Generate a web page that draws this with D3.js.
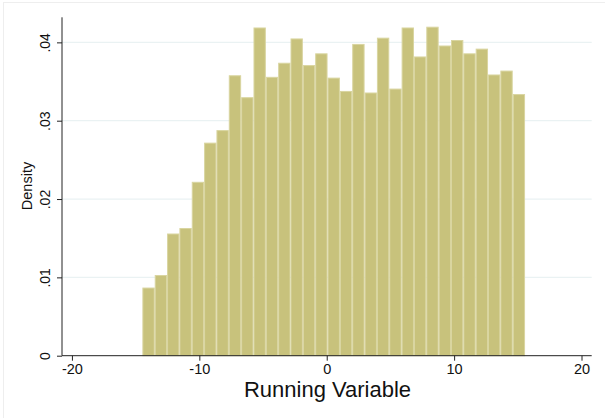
<!DOCTYPE html>
<html>
<head>
<meta charset="utf-8">
<script src="https://cdn.jsdelivr.net/npm/d3@7"></script>
<style>
  body { margin: 0; background: #fff; }
  text { font-family: "Liberation Sans", Arial, sans-serif; fill: #111; }
</style>
</head>
<body>
<script>
// histogram bins (start, width) and densities
const binStart = -14.47;
const binWidth = 0.969;
const densities = [
  0.0087, 0.0103, 0.0156, 0.0163, 0.0222, 0.0272, 0.0288, 0.0358, 0.0330, 0.0419,
  0.0356, 0.0374, 0.0405, 0.0371, 0.0386, 0.0355, 0.0338, 0.0398, 0.0336, 0.0406,
  0.0341, 0.0419, 0.0382, 0.0420, 0.0396, 0.0403, 0.0386, 0.0392, 0.0359, 0.0364,
  0.0334
];
const xTicks = [-20, -10, 0, 10, 20];
const yTicks = [0, 0.01, 0.02, 0.03, 0.04];

const width = 605, height = 418;
const svg = d3.select('body').append('svg')
  .attr('width', width)
  .attr('height', height);

// faint outer frame of the graph region
svg.append('rect')
  .attr('x', 3.5).attr('y', 2.5)
  .attr('width', 640).attr('height', 440)
  .attr('fill', 'none')
  .attr('stroke', '#eeeeee');

const x = d3.scaleLinear().domain([-20.78, 20.8]).range([62, 591.7]);
const y = d3.scaleLinear().domain([0, 0.0432]).range([355.7, 17.3]);

const fmt = d => d === 0 ? '0' : d3.format('.2f')(d).replace(/^0/, '');

// gridlines
svg.append('g')
  .selectAll('line')
  .data(yTicks.filter(d => d > 0))
  .enter().append('line')
  .attr('x1', 62).attr('x2', 591.7)
  .attr('y1', d => y(d)).attr('y2', d => y(d))
  .attr('stroke', '#eaf2f3')
  .attr('stroke-width', 1.3);

// bars
svg.append('g')
  .selectAll('rect')
  .data(densities)
  .enter().append('rect')
  .attr('x', (d, i) => x(binStart + i * binWidth) + 0.5)
  .attr('width', (d, i) => x(binStart + (i + 1) * binWidth) - x(binStart + i * binWidth) - 1)
  .attr('y', d => y(d) + 0.5)
  .attr('height', d => y(0) - y(d) - 0.5)
  .attr('fill', '#c8c27c')
  .attr('stroke', '#d9d5a0')
  .attr('stroke-width', 1);

// x axis
const xAxis = svg.append('g')
  .attr('transform', `translate(0,${y(0)})`)
  .call(d3.axisBottom(x).tickValues(xTicks).tickSize(5).tickPadding(3).tickFormat(d3.format('d')));
xAxis.select('.domain').attr('stroke', '#222').attr('d', `M62,0H591.7`);
xAxis.selectAll('.tick line').attr('stroke', '#222');
xAxis.selectAll('.tick text')
  .style('font-size', '14.5px')
  .text(d => d < 0 ? '-' + Math.abs(d) : d);

// y axis
const yAxis = svg.append('g')
  .attr('transform', 'translate(62,0)')
  .call(d3.axisLeft(y).tickValues(yTicks).tickSize(5).tickFormat(fmt));
yAxis.select('.domain').attr('stroke', '#222').attr('d', `M0,${y(0)}V17.3`);
yAxis.selectAll('.tick line').attr('stroke', '#222');
yAxis.selectAll('.tick text')
  .style('font-size', '14px')
  .attr('x', 0).attr('dy', 0)
  .attr('text-anchor', 'middle')
  .attr('transform', 'translate(-12,0) rotate(-90)');

// axis titles
svg.append('text')
  .attr('x', 327.5).attr('y', 396.5)
  .attr('text-anchor', 'middle')
  .style('font-size', '22px')
  .text('Running Variable');

svg.append('text')
  .attr('transform', 'translate(32,186) rotate(-90)')
  .attr('text-anchor', 'middle')
  .style('font-size', '14.5px')
  .text('Density');
</script>
</body>
</html>
